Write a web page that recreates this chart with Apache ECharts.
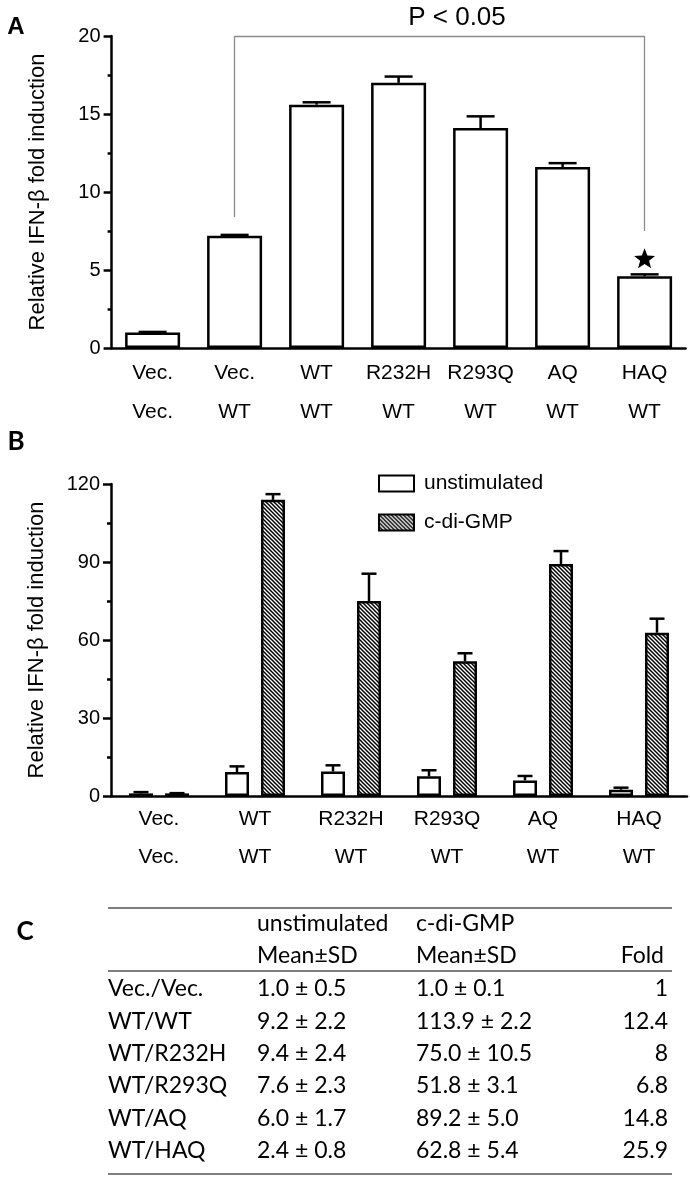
<!DOCTYPE html>
<html lang="en">
  <head>
    <meta charset="utf-8" />
    <style>
      html, body { margin: 0; height: 100%; background: #fff; }
      #container { width: 690px; height: 1184px; }
    </style>
  </head>
  <body>
    <div id="container"></div>
    <script src="https://cdn.jsdelivr.net/npm/echarts@6/dist/echarts.min.js"></script>
    <script type="text/javascript">
      // panel A
      const catTopA = ["Vec.", "Vec.", "WT", "R232H", "R293Q", "AQ", "HAQ"];
      const catBotA = ["Vec.", "WT", "WT", "WT", "WT", "WT", "WT"];
      const meanA = [1.0, 7.2, 15.6, 17.0, 14.1, 11.6, 4.6];
      const errA = [0.03, 0.05, 0.15, 0.4, 0.75, 0.25, 0.12];

      // panel B (+ table C)
      const catTopB = ["Vec.", "WT", "R232H", "R293Q", "AQ", "HAQ"];
      const catBotB = ["Vec.", "WT", "WT", "WT", "WT", "WT"];
      const unstimMean = [1.0, 9.2, 9.4, 7.6, 6.0, 2.4];
      const unstimSD = [0.5, 2.2, 2.4, 2.3, 1.7, 0.8];
      const cdgMean = [1.0, 113.9, 75.0, 51.8, 89.2, 62.8];
      const cdgSD = [0.1, 2.2, 10.5, 3.1, 5.0, 5.4];
      const foldB = ["1", "12.4", "8", "6.8", "14.8", "25.9"];
      const rowNames = ["Vec./Vec.", "WT/WT", "WT/R232H", "WT/R293Q", "WT/AQ", "WT/HAQ"];

      const FONT = "Liberation Sans, Arial, sans-serif";
      const TFONT = "Lato, Open Sans, sans-serif";

      // diagonal hatch for c-di-GMP bars
      function hatch() {
        const c = document.createElement("canvas");
        c.width = 4;
        c.height = 4;
        const g = c.getContext("2d");
        g.fillStyle = "#fff";
        g.fillRect(0, 0, 4, 4);
        g.strokeStyle = "#000";
        g.lineWidth = 1.5;
        g.beginPath();
        g.moveTo(-1, -1); g.lineTo(5, 5);
        g.moveTo(3, -1); g.lineTo(5, 1);
        g.moveTo(-1, 3); g.lineTo(1, 5);
        g.stroke();
        return { image: c, repeat: "repeat" };
      }

      function errBar(offset, capHalf) {
        return function (params, api) {
          const i = api.value(0);
          const p0 = api.coord([i, api.value(1)]);
          const p1 = api.coord([i, api.value(1) + api.value(2)]);
          const x = p0[0] + offset;
          const st = { stroke: "#000", lineWidth: 2.5 };
          return {
            type: "group",
            children: [
              { type: "line", shape: { x1: x, y1: p0[1], x2: x, y2: p1[1] }, style: st },
              { type: "line", shape: { x1: x - capHalf, y1: p1[1], x2: x + capHalf, y2: p1[1] }, style: st },
            ],
          };
        };
      }

      const catsA = catTopA.map((t, i) => t + "\n" + catBotA[i]);
      const catsB = catTopB.map((t, i) => t + "\n" + catBotB[i]);

      const yName = "Relative IFN-\u03b2 fold induction";

      function xAxisCfg(gridIndex, cats, margin, lh) {
        return {
          type: "category",
          gridIndex: gridIndex,
          data: cats,
          axisLine: { lineStyle: { color: "#000", width: 2.5 } },
          axisTick: { alignWithLabel: true, length: 7, lineStyle: { color: "#000", width: 2.5 } },
          axisLabel: { color: "#000", fontFamily: FONT, fontSize: 21, lineHeight: lh, margin: margin, interval: 0 },
        };
      }
      function yAxisCfg(gridIndex, max, interval) {
        return {
          type: "value",
          gridIndex: gridIndex,
          min: 0,
          max: max,
          interval: interval,
          name: yName,
          nameLocation: "middle",
          nameGap: 63,
          nameTextStyle: { color: "#000", fontFamily: FONT, fontSize: 22 },
          axisLine: { show: true, lineStyle: { color: "#000", width: 2.5 } },
          axisTick: { show: true, length: 8, lineStyle: { color: "#000", width: 2.5 } },
          minorTick: { show: true, splitNumber: 2, length: 4, lineStyle: { color: "#000", width: 2.5 } },
          splitLine: { show: false },
          axisLabel: { color: "#000", fontFamily: FONT, fontSize: 20, margin: 11 },
        };
      }

      // table C
      const colX = [108, 257, 416, 668];
      const rowY0 = 989, rowStep = 32.3;
      const tableEls = [];
      function txt(x, y, s, align) {
        tableEls.push({
          type: "text",
          x: x,
          y: y,
          style: { text: s, fill: "#000", font: "23px " + TFONT, align: align || "left", verticalAlign: "middle" },
        });
      }
      function hline(y) {
        tableEls.push({
          type: "line",
          shape: { x1: 108, y1: y, x2: 672, y2: y },
          style: { stroke: "#555", lineWidth: 1.5 },
        });
      }
      hline(908);
      hline(971);
      hline(1174);
      txt(colX[1], 924, "unstimulated");
      txt(colX[2], 924, "c-di-GMP");
      txt(colX[1], 956, "Mean\u00b1SD");
      txt(colX[2], 956, "Mean\u00b1SD");
      txt(colX[3] - 4, 956, "Fold", "right");
      rowNames.forEach((r, i) => {
        const y = rowY0 + i * rowStep;
        txt(colX[0], y, r);
        txt(colX[1], y, unstimMean[i].toFixed(1) + " \u00b1 " + unstimSD[i].toFixed(1));
        txt(colX[2], y, cdgMean[i].toFixed(1) + " \u00b1 " + cdgSD[i].toFixed(1));
        txt(colX[3], y, foldB[i], "right");
      });

      const panelLabel = (s, x, y, font) => ({
        type: "text",
        x: x,
        y: y,
        style: { text: s, fill: "#000", font: font, align: "center", verticalAlign: "middle" },
      });

      const pattern = hatch();
      const plain = { color: "#fff", borderColor: "#000", borderWidth: 2.5 };
      const hatched = { color: pattern, borderColor: "#000", borderWidth: 2.5 };

      const dom = document.getElementById("container");
      const myChart = echarts.init(dom, null, { renderer: "canvas" });

      const option = {
        backgroundColor: "#fff",
        animation: false,
        grid: [
          { left: 111.6, top: 36, width: 574, height: 312 },
          { left: 111, top: 484, width: 576, height: 312 },
        ],
        xAxis: [xAxisCfg(0, catsA, 6, 39), xAxisCfg(1, catsB, 4, 38)],
        yAxis: [yAxisCfg(0, 20, 5), yAxisCfg(1, 120, 30)],
        legend: {
          orient: "vertical",
          left: 373,
          top: 468,
          itemWidth: 35,
          itemHeight: 16,
          itemGap: 18,
          icon: "rect",
          data: ["unstimulated", "c-di-GMP"],
          textStyle: { color: "#000", fontFamily: FONT, fontSize: 21, padding: [0, 0, 0, 5] },
        },
        graphic: [
          panelLabel("A", 16, 27, "bold 24px " + FONT),
          panelLabel("B", 16, 442, "bold 26px " + TFONT),
          panelLabel("C", 25, 932, "bold 26px " + TFONT),
          {
            type: "text",
            x: 457,
            y: 18,
            style: { text: "P < 0.05", fill: "#000", font: "26px " + FONT, align: "center", verticalAlign: "middle" },
          },
        ].concat(tableEls),
        series: [
          {
            type: "bar",
            xAxisIndex: 0,
            yAxisIndex: 0,
            data: meanA,
            barWidth: 55,
            itemStyle: plain,
            markLine: {
              silent: true,
              symbol: "none",
              label: { show: false },
              lineStyle: { color: "#8a8a8a", width: 1.3, type: "solid" },
              data: [
                [{ coord: [1, 8.4] }, { coord: [1, 20] }],
                [{ coord: [1, 20] }, { coord: [6, 20] }],
                [{ coord: [6, 20] }, { coord: [6, 7.5] }],
              ],
            },
            markPoint: {
              silent: true,
              symbol:
                "path://M12,1 L14.9,8.6 L23,9 L16.7,14.1 L18.8,22 L12,17.6 L5.2,22 L7.3,14.1 L1,9 L9.1,8.6 Z",
              symbolSize: [21, 20],
              itemStyle: { color: "#000" },
              label: { show: false },
              data: [{ coord: [6, 5.75] }],
            },
          },
          {
            type: "custom",
            xAxisIndex: 0,
            yAxisIndex: 0,
            renderItem: errBar(0, 14),
            data: meanA.map((v, i) => [i, v, errA[i]]),
            z: 3,
          },
          {
            name: "unstimulated",
            type: "bar",
            xAxisIndex: 1,
            yAxisIndex: 1,
            data: unstimMean,
            barWidth: 24,
            barGap: "50%",
            itemStyle: plain,
          },
          {
            name: "c-di-GMP",
            type: "bar",
            xAxisIndex: 1,
            yAxisIndex: 1,
            data: cdgMean,
            barWidth: 24,
            barGap: "50%",
            itemStyle: hatched,
          },
          {
            type: "custom",
            xAxisIndex: 1,
            yAxisIndex: 1,
            renderItem: errBar(-18, 7.5),
            data: unstimMean.map((v, i) => [i, v, unstimSD[i]]),
            z: 3,
          },
          {
            type: "custom",
            xAxisIndex: 1,
            yAxisIndex: 1,
            renderItem: errBar(18, 7.5),
            data: cdgMean.map((v, i) => [i, v, cdgSD[i]]),
            z: 3,
          },
        ],
      };

      myChart.setOption(option);
      window.addEventListener("resize", myChart.resize);
    </script>
  </body>
</html>
